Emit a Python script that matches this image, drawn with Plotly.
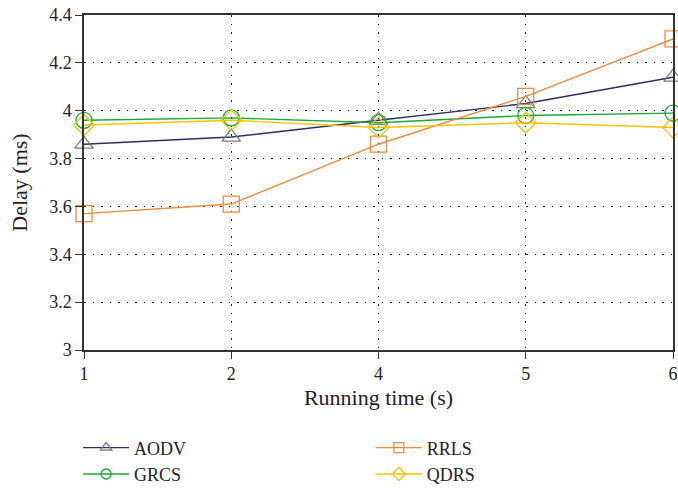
import plotly.graph_objects as go

x_labels = ["1", "2", "4", "5", "6"]
aodv = [3.86, 3.89, 3.96, 4.03, 4.14]
grcs = [3.96, 3.97, 3.95, 3.98, 3.99]
rrls = [3.57, 3.61, 3.86, 4.06, 4.30]
qdrs = [3.94, 3.96, 3.93, 3.95, 3.93]

series = [
    ("AODV", aodv, "#2a2f5f", "#7a7a7a", "triangle-up-open", "legend"),
    ("GRCS", grcs, "#1aa838", "#1aa838", "circle-open", "legend"),
    ("RRLS", rrls, "#f08a3c", "#f08a3c", "square-open", "legend2"),
    ("QDRS", qdrs, "#f7c10a", "#f7c10a", "diamond-open", "legend2"),
]

fig = go.Figure()
for name, vals, lc, mc, sym, lg in series:
    fig.add_trace(go.Scatter(
        x=x_labels, y=vals, name=name, mode="lines+markers",
        line=dict(color=lc, width=1.4),
        marker=dict(symbol=sym, size=16, color=mc, line=dict(width=1.3, color=mc)),
        cliponaxis=False, showlegend=False,
    ))
# legend entries with smaller symbols
for name, vals, lc, mc, sym, lg in series:
    fig.add_trace(go.Scatter(
        x=[None], y=[None], name=name, mode="lines+markers",
        line=dict(color=lc, width=1.4),
        marker=dict(symbol=sym, size=10, color=mc, line=dict(width=1.3, color=mc)),
        legend=lg, showlegend=True,
    ))

font = "Liberation Serif, Times New Roman, serif"
grid_dash = "1.5px,7px"
leg_common = dict(orientation="v", yanchor="top", xanchor="left",
                  font=dict(size=18, color="#222"), bgcolor="rgba(0,0,0,0)",
                  tracegroupgap=0, itemwidth=46)
fig.update_layout(
    width=678, height=489,
    margin=dict(l=84, r=5, t=15, b=139, autoexpand=False),
    plot_bgcolor="white", paper_bgcolor="white",
    font=dict(family=font, size=18, color="#222"),
    showlegend=True,
    legend=dict(x=-0.010, y=-0.237, **leg_common),
    legend2=dict(x=0.487, y=-0.237, **leg_common),
    xaxis=dict(
        type="category", range=[0, 4], showline=True, linecolor="#333", linewidth=1.5,
        mirror=True, ticks="outside", ticklen=7, tickcolor="#333",
        showgrid=True, gridcolor="#222", griddash=grid_dash, gridwidth=1.2,
        title=dict(text="Running time (s)", standoff=6),
        tickfont=dict(size=18), automargin=False,
    ),
    yaxis=dict(
        range=[3, 4.4], dtick=0.2, tick0=3, showline=True, linecolor="#333", linewidth=1.5,
        mirror=True, ticks="outside", ticklen=7, tickcolor="#333",
        showgrid=True, gridcolor="#222", griddash=grid_dash, gridwidth=1.2,
        title=dict(text="Delay (ms)", standoff=15),
        tickfont=dict(size=18), automargin=False,
    ),
)
fig.write_html(
    "out.html",
    config={"displayModeBar": False},
    post_script="document.body.style.margin='0';document.body.style.overflow='hidden';"
                "document.documentElement.style.overflow='hidden';",
)
